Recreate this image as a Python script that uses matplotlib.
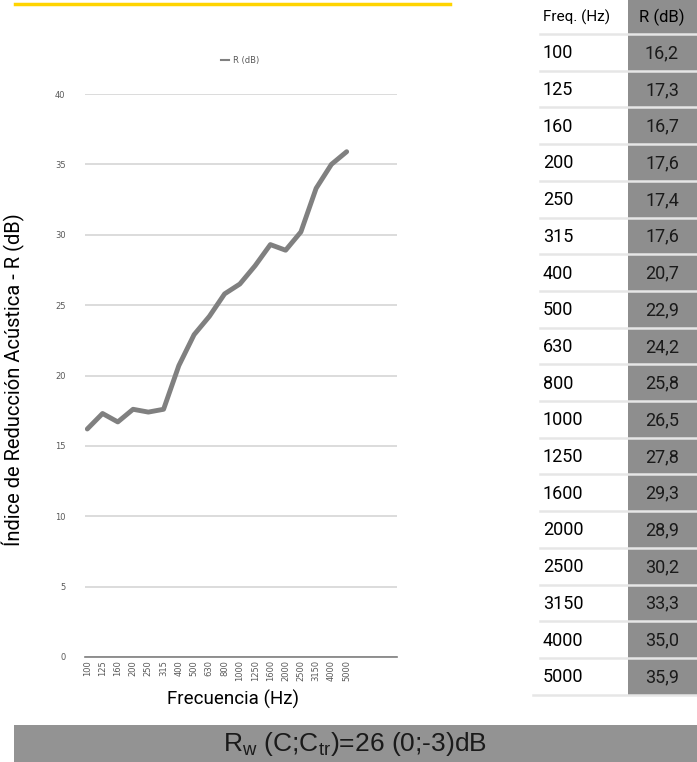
import matplotlib
matplotlib.use("Agg")
import matplotlib.pyplot as plt
from matplotlib.patches import Rectangle
from matplotlib.lines import Line2D

# datos del ensayo
freqs = [100, 125, 160, 200, 250, 315, 400, 500, 630, 800,
         1000, 1250, 1600, 2000, 2500, 3150, 4000, 5000]
r_db = [16.2, 17.3, 16.7, 17.6, 17.4, 17.6, 20.7, 22.9, 24.2, 25.8,
        26.5, 27.8, 29.3, 28.9, 30.2, 33.3, 35.0, 35.9]
y_ticks = [0, 5, 10, 15, 20, 25, 30, 35, 40]
table_header = ["Freq. (Hz)", "R (dB)"]
rw_text = r"R$_\mathregular{w}$ (C;C$_\mathregular{tr}$)=26 (0;-3)dB"

W, H = 697, 762
NARROW = ["Roboto", "DejaVu Sans"]
REGULAR = ["Liberation Sans", "DejaVu Sans"]

fig = plt.figure(figsize=(W / 100, H / 100), dpi=100)


def fx(px):
    return px / W


def fy(py):
    return 1 - py / H


# linea amarilla superior
fig.add_artist(Line2D([fx(15), fx(450)], [fy(4), fy(4)], color="#ffd400", lw=2.5))

# grafico
ax = fig.add_axes([fx(85), fy(657), fx(397) - fx(85), fy(94) - fy(657)])
x = list(range(len(freqs)))
ax.plot(x, r_db, color="#808080", lw=3.5, solid_capstyle="round", label="R (dB)")
ax.set_xlim(-0.15, 20.3)
ax.set_ylim(0, 40)
ax.set_yticks(y_ticks)
ax.set_yticklabels([str(v) for v in y_ticks])
ax.set_xticks(x)
ax.set_xticklabels([str(f) for f in freqs], rotation=90)
ax.tick_params(axis="both", length=0, labelsize=6, labelcolor="#595959")
ax.tick_params(axis="y", pad=14)
ax.tick_params(axis="x", pad=2)
ax.grid(axis="y", color="#dcdcdc", lw=1.4)
ax.set_axisbelow(True)
for s in ["top", "right", "left"]:
    ax.spines[s].set_visible(False)
ax.spines["bottom"].set_color("#7f7f7f")
ax.spines["bottom"].set_linewidth(1.2)

leg = fig.legend(handles=[Line2D([], [], color="#808080", lw=1.5)], labels=["R (dB)"],
                 loc="center", bbox_to_anchor=(fx(240), fy(60)), frameon=False,
                 fontsize=6, labelcolor="#595959", handlelength=1.0, handletextpad=0.4)

fig.text(fx(13), fy(380), "Índice de Reducción Acústica - R (dB)", rotation=90,
         ha="center", va="center", fontsize=14.5, family=NARROW)
fig.text(fx(233), fy(699), "Frecuencia (Hz)", ha="center", va="center",
         fontsize=13.5, family=NARROW)

# tabla
col_gray = "#8e8e8e"
header_h = 34
row_h = 36.7
fig.add_artist(Rectangle((fx(628), fy(header_h + row_h * len(freqs))),
                         fx(697) - fx(628), fy(0) - fy(header_h + row_h * len(freqs)),
                         transform=fig.transFigure, color=col_gray, lw=0))
fig.text(fx(543), fy(17), table_header[0], ha="left", va="center",
         fontsize=11, family=NARROW)
fig.text(fx(662), fy(17), table_header[1], ha="center", va="center",
         fontsize=12, family=NARROW)
for i, (f, r) in enumerate(zip(freqs, r_db)):
    top = header_h + row_h * i
    fig.add_artist(Line2D([fx(540), fx(697)], [fy(top), fy(top)],
                          color="#e6e6e6", lw=1.8))
    yc = top + row_h / 2 + 1
    fig.text(fx(543), fy(yc), str(f), ha="left", va="center",
             fontsize=13, family=NARROW)
    fig.text(fx(662), fy(yc), f"{r:.1f}".replace(".", ","), ha="center",
             va="center", fontsize=13, family=NARROW, color="#1a1a1a")
bottom = header_h + row_h * len(freqs)
fig.add_artist(Line2D([fx(533), fx(697)], [fy(bottom), fy(bottom)],
                      color="#e6e6e6", lw=1.8))

# banda inferior
fig.add_artist(Rectangle((fx(14), 0), 1 - fx(14), fy(725),
                         transform=fig.transFigure, color="#939393", lw=0))
fig.text(fx(355), fy(744), rw_text, ha="center", va="center",
         fontsize=19, family=REGULAR, color="#1a1a1a")

fig.savefig("out.png", dpi=100)
